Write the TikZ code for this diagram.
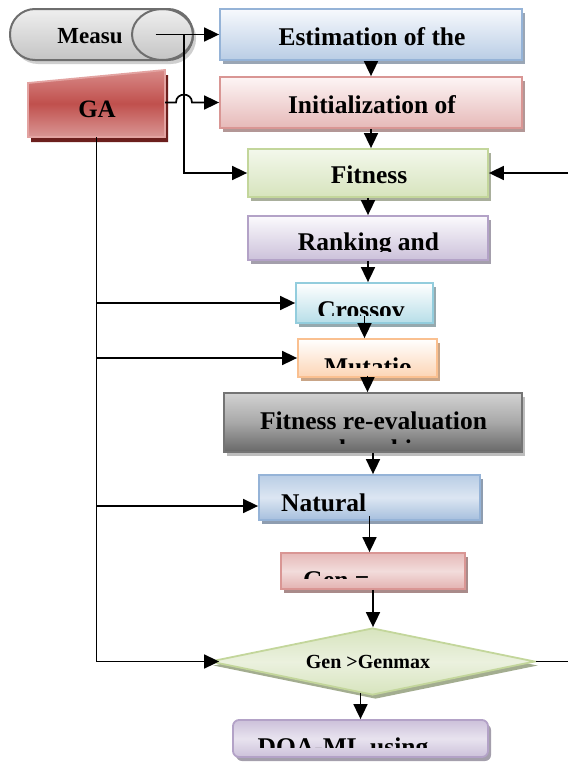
\documentclass[tikz,border=0pt]{standalone}
\usepackage{fontspec}
\setmainfont{Liberation Serif}
\usetikzlibrary{shapes.geometric,arrows.meta,shadows,calc}
\definecolor{estB}{HTML}{95B3D7}\definecolor{estT}{HTML}{F7F9FD}\definecolor{estBo}{HTML}{B9CDE5}\definecolor{estS}{HTML}{9AA6B5}
\definecolor{initB}{HTML}{D99694}\definecolor{initT}{HTML}{FDF5F5}\definecolor{initBo}{HTML}{E6B9B8}\definecolor{initS}{HTML}{B39796}
\definecolor{fitB}{HTML}{C3D69B}\definecolor{fitT}{HTML}{F3F8EC}\definecolor{fitBo}{HTML}{D7E4BD}\definecolor{fitS}{HTML}{A9AF9C}
\definecolor{rankB}{HTML}{B3A2C7}\definecolor{rankT}{HTML}{FBFAFD}\definecolor{rankBo}{HTML}{CCC1DA}\definecolor{rankS}{HTML}{A49FAC}
\definecolor{crossB}{HTML}{93CDDD}\definecolor{crossT}{HTML}{FFFFFF}\definecolor{crossBo}{HTML}{B7DEE8}\definecolor{crossS}{HTML}{96A9AE}
\definecolor{mutB}{HTML}{FAC090}\definecolor{mutT}{HTML}{FFFFFF}\definecolor{mutBo}{HTML}{FCD5B5}\definecolor{mutS}{HTML}{C9A587}
\definecolor{freB}{HTML}{747474}\definecolor{freT}{HTML}{D2D2D2}\definecolor{freM}{HTML}{A8A8A8}\definecolor{freBo}{HTML}{686868}\definecolor{freS}{HTML}{BDBDBD}
\definecolor{natB}{HTML}{95B3D7}\definecolor{natT}{HTML}{B9CDE5}\definecolor{natM}{HTML}{DCE6F2}\definecolor{natBo}{HTML}{A6BFDD}\definecolor{natS}{HTML}{8E9DB0}
\definecolor{genB}{HTML}{D99694}\definecolor{genT}{HTML}{E6B9B8}\definecolor{genM}{HTML}{F2DCDB}\definecolor{genBo}{HTML}{E3B2B1}\definecolor{genS}{HTML}{A98B8A}
\definecolor{diaB}{HTML}{C3D69B}\definecolor{diaT}{HTML}{D7E4BD}\definecolor{diaM}{HTML}{EBF1DE}\definecolor{diaBo}{HTML}{D7E4BD}\definecolor{diaS}{HTML}{A3AD90}
\definecolor{doaB}{HTML}{B3A2C7}\definecolor{doaT}{HTML}{CCC1DA}\definecolor{doaM}{HTML}{E8E3EF}\definecolor{doaBo}{HTML}{CCC1DA}\definecolor{doaS}{HTML}{A49FAC}
\definecolor{measB}{HTML}{6E6E6E}\definecolor{measT}{HTML}{EFEFEF}\definecolor{measBo}{HTML}{C4C4C4}\definecolor{measS}{HTML}{CFCFCF}
\definecolor{gaB}{HTML}{E3A3A1}\definecolor{gaT}{HTML}{D88A88}\definecolor{gaM}{HTML}{C0504D}\definecolor{gaBo}{HTML}{D99694}\definecolor{gaS}{HTML}{6C1F1D}
\begin{document}
\begin{tikzpicture}[x=1pt,y=-1pt,
  conn/.style={line width=1.7pt, draw=black},
  arr/.style={conn, -{Triangle[length=15pt,width=14pt]}},
  box/.style 2 args={rectangle, minimum width=#1, minimum height=#2, inner sep=0pt, line width=1.8pt},
  shad/.style={drop shadow={shadow xshift=3pt, shadow yshift=-4pt, fill=#1, opacity=1}},
  txt/.style={font=\fontsize{25.5}{30}\selectfont\bfseries, inner sep=0pt, anchor=base}]
\path[use as bounding box] (0,0) rectangle (568,763);

% Measu capsule
\node[box={183pt}{51pt}, rounded corners=25pt, draw=measB, line width=2pt, top color=measT, bottom color=measBo, shad=measS] (meas) at (101.5,34.5) {};
\node[ellipse, minimum width=61pt, minimum height=51pt, inner sep=0pt, draw=measB, line width=2pt] (mcap) at (162.5,34.5) {};
\node[txt, font=\fontsize{23}{28}\selectfont\bfseries] (tmeas) at (90,43) {Measu};

% GA
\fill[gaS] (31,88) -- (168,75) -- (168,142) -- (31,142) -- cycle;
\path[draw=gaB, line width=1.8pt, top color=gaT, bottom color=gaBo, middle color=gaM] (28,83) -- (165,70) -- (165,137) -- (28,137) -- cycle;
\node[rectangle, minimum width=137pt, minimum height=67pt, inner sep=0pt] (ga) at (96.5,103.5) {};
\node[txt, font=\fontsize{25}{30}\selectfont\bfseries] (tga) at (97,117) {GA};

% boxes
\node[box={302pt}{51pt}, draw=estB, top color=estT, bottom color=estBo, shad=estS] (est) at (371,34.5) {};
\node[box={302pt}{51pt}, draw=initB, top color=initT, bottom color=initBo, shad=initS] (init) at (371,102.5) {};
\node[box={240pt}{48pt}, draw=fitB, top color=fitT, bottom color=fitBo, shad=fitS] (fit) at (368,173) {};
\node[box={240pt}{44pt}, draw=rankB, top color=rankT, bottom color=rankBo, shad=rankS] (rank) at (368,238) {};
\node[box={137pt}{40pt}, draw=crossB, top color=crossT, bottom color=crossBo, shad=crossS] (cross) at (364.5,303) {};
\node[box={139pt}{38pt}, draw=mutB, top color=mutT, bottom color=mutBo, shad=mutS] (mut) at (367.5,358) {};
\node[box={298pt}{59pt}, draw=freB, top color=freT, bottom color=freBo, middle color=freM, shad=freS] (fre) at (373,422.5) {};
\node[box={221pt}{45pt}, draw=natB, top color=natT, bottom color=natBo, middle color=natM, shad=natS] (nat) at (369.5,497.5) {};
\node[box={184pt}{36pt}, draw=genB, top color=genT, bottom color=genBo, middle color=genM, shad=genS] (gen) at (373,571) {};
\node[diamond, minimum width=325pt, minimum height=67pt, inner sep=0pt, line width=1.8pt, draw=diaB, top color=diaT, bottom color=diaBo, middle color=diaM, shad=diaS] (dia) at (372.5,661.5) {};
\node[box={255pt}{37pt}, rounded corners=6pt, draw=doaB, top color=doaT, bottom color=doaBo, middle color=doaM, shad=doaS] (doa) at (360.5,738.5) {};

% texts
\node[txt] (test) at (372,45) {Estimation of the};
\node[txt] (tinit) at (372,113) {Initialization of};
\node[txt] (tfit) at (369,183) {Fitness};
\begin{scope}
\clip (249,217) rectangle (487,251.5);
\node[txt] (trank) at (368.5,250) {Ranking and};
\end{scope}
\begin{scope}
\clip (297,284) rectangle (432,315);
\node[txt] (tcross) at (361,318) {Crossov};
\end{scope}
\begin{scope}
\clip (299,340) rectangle (436,367);
\node[txt] (tmut) at (368,375) {Mutatio};
\end{scope}
\node[txt] (tfre) at (373.5,429) {Fitness re-evaluation};
\begin{scope}
\clip (225,432) rectangle (521,443.5);
\node[txt] (tfre2) at (372,457) {and ranking};
\end{scope}
\node[txt, anchor=base west] (tnat) at (281,511) {Natural};
\begin{scope}
\clip (282,554) rectangle (464,578);
\node[txt, anchor=base west] (tgen) at (303,588) {Gen =};
\end{scope}
\node[txt, font=\fontsize{20}{24}\selectfont\bfseries] (tdia) at (368,668) {Gen >Genmax};
\begin{scope}
\clip (234,721) rectangle (487,747);
\node[txt] (tdoa) at (343,755) {DOA-ML using};
\end{scope}

% connectors
\coordinate (split) at (184,34.5);
\coordinate (redge) at (568,0);
\draw[arr] ([xshift=-7pt]mcap.center) -- (est.west);
\draw[arr] (split) |- (fit.west);
\draw[arr] (ga.east |- init.west) -- (176,102.5) .. controls (176,92) and (192,92) .. (192,102.5) -- (init.west);
\draw[arr] (redge |- fit.east) -- (fit.east);
\draw[arr] (ga.south) |- ([xshift=10pt]dia.west);
\draw[arr] (ga.south |- cross.west) -- (cross.west);
\draw[arr] (ga.south |- mut.west) -- (mut.west);
\coordinate (natin) at ([yshift=-8.5pt]nat.west);
\draw[arr] (ga.south |- natin) -- (natin);
\draw[arr] (est.south) -- (est.south |- init.north);
\draw[arr] (init.south) -- (init.south |- fit.north);
\draw[arr] (fit.south) -- (fit.south |- rank.north);
\draw[arr] (rank.south) -- (rank.south |- cross.north);
\draw[arr] ([yshift=8pt]cross.south) -- (cross.south |- mut.north);
\draw[arr] ([yshift=2pt]mut.south) -- (mut.south |- fre.north);
\draw[arr] (fre.south) -- (fre.south |- nat.north);
\draw[arr] ([yshift=5pt]nat.south) -- (nat.south |- gen.north);
\draw[arr] (gen.south) -- (gen.south |- dia.north);
\coordinate (diabot) at ([yshift=3pt]dia.south);
\draw[arr] (doa.north |- diabot) -- (doa.north);
\draw[conn] (dia.east) -- (redge |- dia.east);
\end{tikzpicture}
\end{document}
